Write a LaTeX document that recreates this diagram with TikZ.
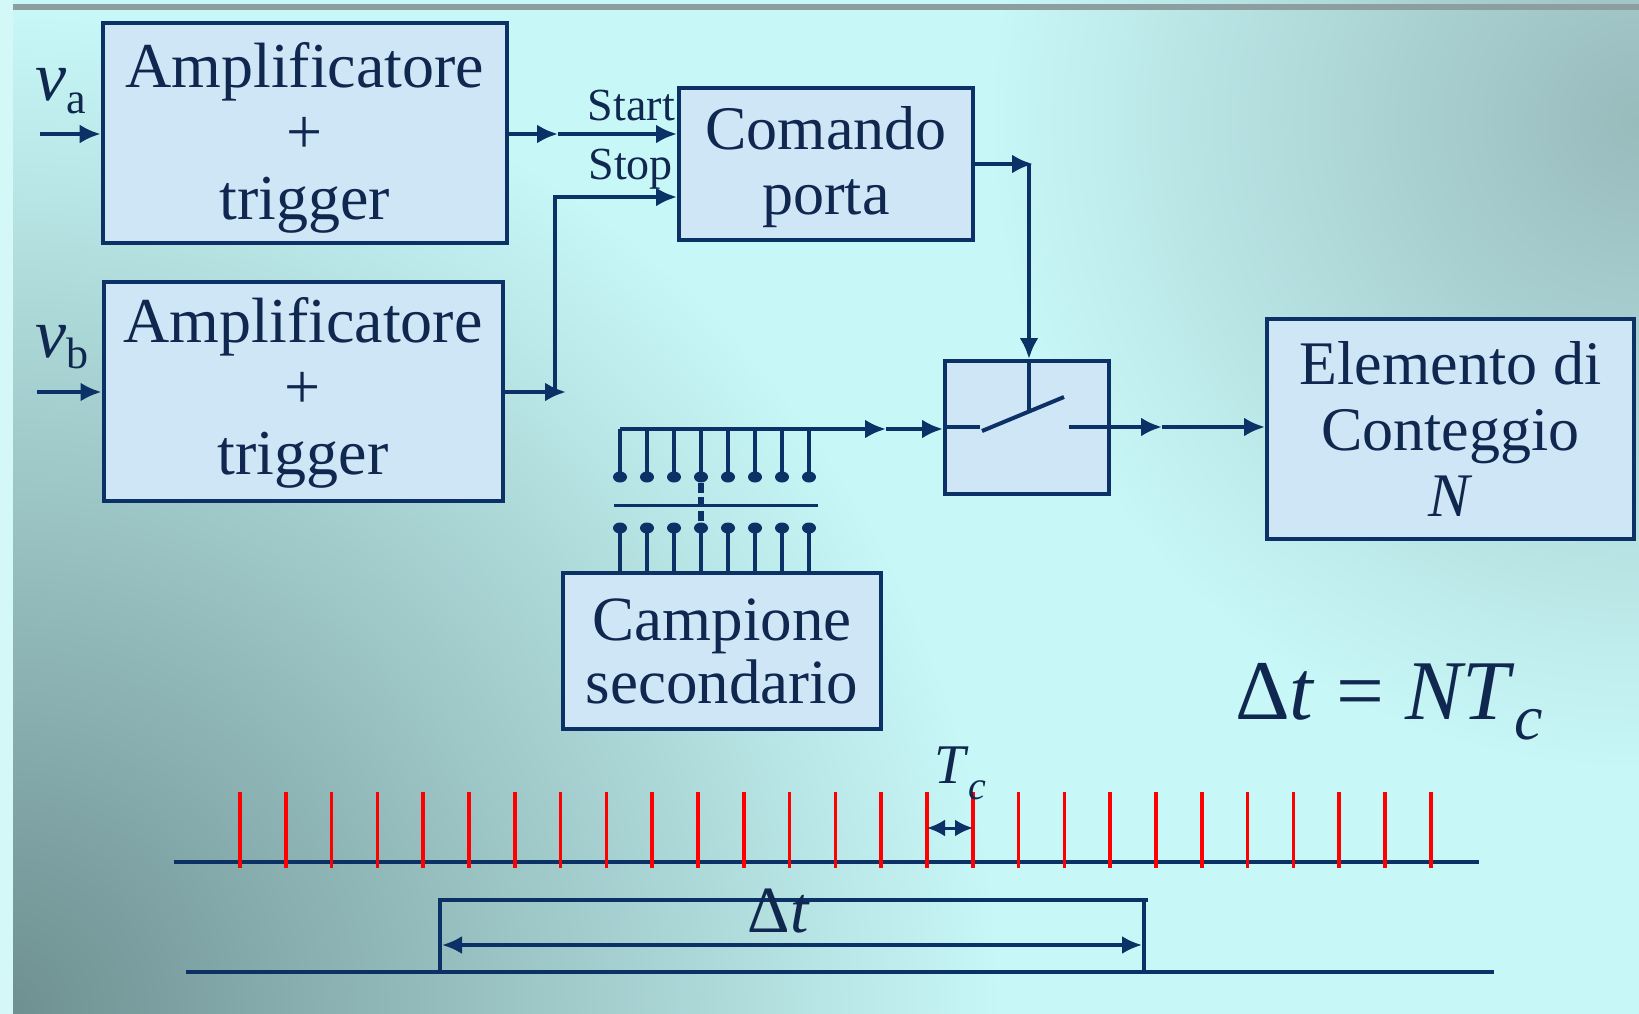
\documentclass[tikz,border=0pt]{standalone}
\usepackage{fontspec}
\setmainfont{Liberation Serif}
\usetikzlibrary{arrows.meta}
\definecolor{navy}{HTML}{0B3167}
\definecolor{txtc}{HTML}{10284F}
\definecolor{boxfill}{HTML}{CFE6F7}
\definecolor{bgmid}{HTML}{C8F7F7}
\definecolor{bgdark}{HTML}{6D8F90}
\definecolor{bgtr}{HTML}{98BBBC}
\definecolor{topbar}{HTML}{8C9E9E}
\definecolor{leftbar}{HTML}{D4F7F7}
\pgfdeclareradialshading{bldark}{\pgfpoint{0bp}{0bp}}{color(0bp)=(bgdark); color(25bp)=(bgmid); color(50bp)=(bgmid)}
\pgfdeclareradialshading{trdark}{\pgfpoint{0bp}{0bp}}{color(0bp)=(bgtr); color(25bp)=(bgmid); color(50bp)=(bgmid)}
\newcommand\bxfont{\fontsize{64}{66}\selectfont}
\newcommand\elfont{\fontsize{62}{66}\selectfont}
\newcommand\cmfont{\fontsize{62}{65}\selectfont}
\newcommand\cpfont{\fontsize{63}{63}\selectfont}
\begin{document}
\begin{tikzpicture}[x=1pt,y=-1pt,
  box/.style={draw=navy, fill=boxfill, line width=4pt, inner sep=0pt, align=center, text=txtc, font=\bxfont},
  ln/.style={draw=navy, line width=4pt},
  arr/.style={ln, -{Latex[length=21pt,width=19pt]}},
  tick/.style={draw=red, line width=3.5pt},
  lab/.style={inner sep=0pt, text=txtc}]
\useasboundingbox (0,0) rectangle (1639,1014);
\begin{scope}
\clip (0,0) rectangle (1639,1014);
\fill[bgmid] (0,0) rectangle (1639,1014);
\shade[shading=trdark] (1639,120) circle (650pt);
\shade[shading=bldark] (0,1014) circle (1000pt);
\fill[leftbar] (0,0) rectangle (13,1014);
\fill[topbar] (13,4) rectangle (1639,10);
\end{scope}

% boxes
\node[box, minimum width=404pt, minimum height=220pt] (amp1) at (304.7,133.3) {\rule{0pt}{54pt}Amplificatore\\+\\trigger};
\node[box, minimum width=399pt, minimum height=219pt] (amp2) at (303,391.2) {\rule{0pt}{48pt}Amplificatore\\+\\trigger};
\node[box, font=\cmfont, minimum width=294pt, minimum height=152pt] (cmd) at (826,164) {\rule{0pt}{50pt}Comando\\porta};
\node[box, minimum width=164pt, minimum height=133pt] (sw) at (1027,427.5) {};
\node[box, font=\elfont, minimum width=367pt, minimum height=220pt] (elem) at (1450.5,429) {Elemento di\\Conteggio\\\textit{N}};
\node[box, font=\cpfont, minimum width=318pt, minimum height=156pt] (camp) at (722,651) {Campione\\secondario};

% labels
\node[lab, anchor=base west] (va) at (35,101) {\fontsize{70}{70}\selectfont\textit{v}\raisebox{-13pt}{\fontsize{44}{44}\selectfont a}};
\node[lab, anchor=base west] (vb) at (35,357) {\fontsize{70}{70}\selectfont\textit{v}\raisebox{-11pt}{\fontsize{44}{44}\selectfont b}};
\node[lab, anchor=base east, font=\fontsize{46}{46}\selectfont] (start) at (675,121) {Start};
\node[lab, anchor=base east, font=\fontsize{46}{46}\selectfont] (stop) at (673,179) {Stop};
\node[lab, anchor=base west] (formula) at (1235,719) {\fontsize{85}{85}\selectfont Δ\textit{t} = \textit{NT}\raisebox{-20pt}{\fontsize{64}{64}\selectfont\textit{c}}};

% inputs
\coordinate (vain) at (40,134);
\coordinate (vbin) at (37,392);
\draw[arr] (vain) -- (vain -| amp1.west);
\draw[arr] (vbin) -- (vbin -| amp2.west);

% start
\coordinate (m1) at (558,134);
\draw[arr] (amp1.east |- m1) -- (m1);
\draw[arr] (m1) -- (m1 -| cmd.west);

% stop
\coordinate (s0) at (566,392);
\coordinate (s1) at (555,392);
\coordinate (s2) at (555,197);
\draw[arr] (amp2.east |- s0) -- (s0);
\draw[arr] (s1) -- (s2) -- (s2 -| cmd.west);

% comando output
\coordinate (c1) at (1033,164);
\draw[arr] (cmd.east |- c1) -- (c1);
\coordinate (c2) at (1029,164);
\draw[arr] (c2) -- (c2 |- sw.north);

% switch internals
\coordinate (swl) at (980,427);
\coordinate (pivot) at (982,431);
\coordinate (blade) at (1064,397);
\coordinate (bladec) at (1029,413);
\coordinate (swr) at (1069,427);
\draw[ln] (sw.west |- swl) -- (swl);
\draw[ln] (pivot) -- (blade);
\draw[ln] (c2 |- sw.north) -- (bladec);
\coordinate (m3) at (1162,427);
\draw[arr] (swr) -- (m3);
\draw[arr] (m3) -- (m3 -| elem.west);

% clock bus
\coordinate (b0) at (620,429);
\coordinate (m2) at (886,429);
\draw[arr] (b0) -- (m2);
\draw[arr] (m2) -- (m2 -| sw.west);
\foreach \i in {0,...,7}{
  \pgfmathsetmacro\xx{620+\i*27}
  \draw[ln] (\xx,429) -- (\xx,477);
  \fill[navy] (\xx,477) ellipse (7pt and 5.5pt);
  \fill[navy] (\xx,528) ellipse (7pt and 5.5pt);
  \draw[ln] (\xx,528) -- (\xx,0 |- camp.north);
}
\draw[navy, line width=3pt] (614,505) -- (818,505);
\draw[navy, line width=6pt, dash pattern=on 10pt off 4pt] (701,483) -- (701,524);

% timing diagram
\draw[navy, line width=4pt] (174,862) -- (1479,862);
\foreach \i in {0,...,26}{
  \draw[tick] ({240+\i*45.8},792) -- ({240+\i*45.8},868);
}
\coordinate (tca) at (927,828);
\coordinate (tcb) at (973,828);
\draw[navy, line width=3pt, {Latex[length=18pt,width=17pt]}-{Latex[length=18pt,width=17pt]}] (tca) -- (tcb);
\node[lab, anchor=base west] (tc) at (934,783) {\fontsize{56}{56}\selectfont\textit{T}\raisebox{-16pt}{\fontsize{40}{40}\selectfont\textit{c}}};

\draw[navy, line width=4pt] (186,972) -- (1494,972);
\draw[navy, line width=3.5pt] (440,972) -- (440,900) -- (1148,900);
\draw[navy, line width=3.5pt] (1144,900) -- (1144,972);
\coordinate (dta) at (442,945);
\coordinate (dtb) at (1142,945);
\draw[navy, line width=3.5pt, {Latex[length=20pt,width=18pt]}-{Latex[length=20pt,width=18pt]}] (dta) -- (dtb);
\node[lab, anchor=base] (dt) at (779,932) {\fontsize{66}{66}\selectfont Δ\textit{t}};
\end{tikzpicture}
\end{document}
